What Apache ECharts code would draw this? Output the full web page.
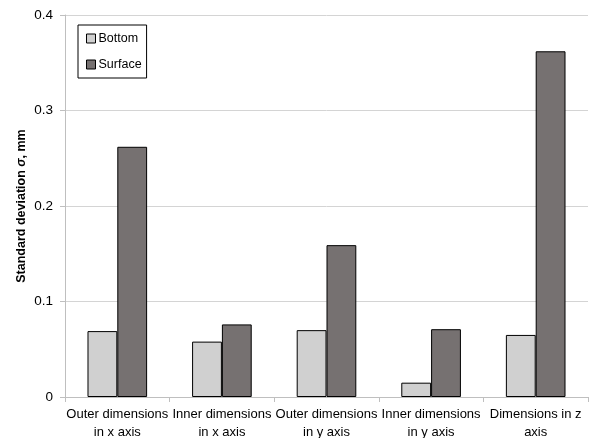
<!DOCTYPE html>
<html><head><meta charset="utf-8">
<script src="https://cdn.jsdelivr.net/npm/echarts@6/dist/echarts.min.js"></script>
<style>html,body{margin:0;padding:0;background:#fff}#c{width:594px;height:438px}</style>
</head><body><div id="c"></div>
<script>
const categories = ["Outer dimensions\nin x axis","Inner dimensions\nin x axis","Outer dimensions\nin y axis","Inner dimensions\nin y axis","Dimensions in z\naxis"];
const bottomValues = [0.069, 0.058, 0.070, 0.015, 0.065];
const surfaceValues = [0.262, 0.076, 0.159, 0.071, 0.362];
const yTicks = [0, 0.1, 0.2, 0.3, 0.4];
const seriesNames = ["Bottom", "Surface"];

const chart = echarts.init(document.getElementById('c'), null, {renderer:'canvas'});
const font = "'Liberation Sans', Arial, sans-serif";
chart.setOption({
  animation:false,
  textStyle:{fontFamily:font},
  grid:{left:65, right:6, top:15, bottom:41, containLabel:false, outerBoundsMode:'none'},
  legend:{
    orient:'vertical', left:78, top:25, itemWidth:9, itemHeight:9, itemGap:13, icon:'rect',
    padding:[7,5,7,8], borderColor:'#000', borderWidth:1, backgroundColor:'#fff',
    textStyle:{fontFamily:font, fontSize:12.5, color:'#000', padding:[0,0,0,-2]},
    data:seriesNames.map(n=>({name:n, itemStyle:{borderColor:'#000', borderWidth:1}}))
  },
  xAxis:{
    type:'category', data:categories,
    axisLine:{lineStyle:{color:'#bfbfbf'}},
    axisTick:{show:true, alignWithLabel:false, length:5, lineStyle:{color:'#bfbfbf'}},
    axisLabel:{interval:0, fontSize:13, color:'#000', lineHeight:18, margin:8, fontFamily:font}
  },
  yAxis:{
    type:'value', min:yTicks[0], max:yTicks[yTicks.length-1], interval:0.1,
    name:'Standard deviation {i|σ}, mm', nameLocation:'middle', nameGap:37, nameMoveOverlap:false,
    nameTextStyle:{fontSize:12.5, fontWeight:'bold', color:'#000', fontFamily:font,
      rich:{i:{fontStyle:'italic', fontWeight:'bold', fontSize:12.5, fontFamily:font}}},
    axisLine:{show:true, lineStyle:{color:'#bfbfbf'}},
    axisTick:{show:true, length:5, lineStyle:{color:'#bfbfbf'}},
    splitLine:{lineStyle:{color:'#d4d4d4'}},
    axisLabel:{fontSize:13.5, color:'#000', margin:12, fontFamily:font,
      formatter:v=>String(Math.round(v*10)/10)}
  },
  series:[
    {name:seriesNames[0], type:'bar', data:bottomValues, barGap:'0%', barCategoryGap:'43%',
      itemStyle:{color:'#d0d0d0', borderColor:'#000', borderWidth:1}},
    {name:seriesNames[1], type:'bar', data:surfaceValues, barGap:'0%', barCategoryGap:'43%',
      itemStyle:{color:'#767171', borderColor:'#000', borderWidth:1}}
  ]
});
</script></body></html>
